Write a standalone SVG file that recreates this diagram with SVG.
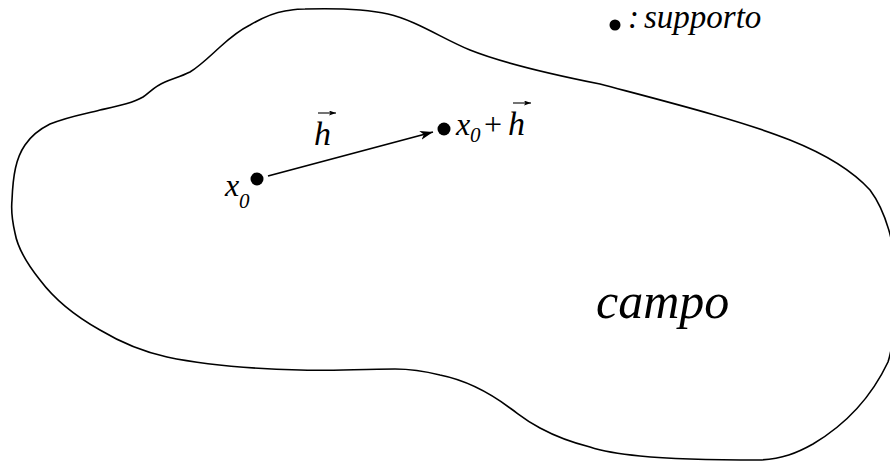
<svg xmlns="http://www.w3.org/2000/svg" width="890" height="463" viewBox="0 0 890 463">
<style>
  .outline { fill: none; stroke: #000; stroke-width: 1.6; stroke-linejoin: round; }
  .conn { fill: none; stroke: #000; stroke-width: 1.8; }
  .vec { fill: none; stroke: #000; stroke-width: 1.1; }
  .dot { fill: #000; }
  text { fill: #000; }
</style>
<defs>
  <marker id="head" markerUnits="userSpaceOnUse" markerWidth="14" markerHeight="10" refX="13" refY="4.5" orient="auto">
    <path d="M0,0 L13,4.5 L0,9 L3.5,4.5 Z" fill="#000"/>
  </marker>
  <marker id="vhead" markerUnits="userSpaceOnUse" markerWidth="8" markerHeight="6" refX="7" refY="2.5" orient="auto">
    <path d="M0,0 L7,2.5 L0,5 L1.5,2.5 Z" fill="#000"/>
  </marker>
</defs>
<g id="campo-region">
  <path class="outline" d="M305,9 C340,8 370,10 388,14 C415,20 445,40 470,50 C500,62 540,72 600,84 C660,100 740,120 790,140 C820,152 850,168 870,190 C885,210 896,245 896,280 C896,310 895,340 888,362 C870,400 845,425 813,444 C797,453 782,459 760,460 C720,460 670,459 640,456 C620,454 605,452 590,447 C570,442 553,435 540,428 C525,420 520,415 510,408 C490,393 465,380 440,375 C420,370 410,369 395,369 C360,369 330,371 300,370 C260,369 210,366 167,357 C140,351 120,342 100,330 C75,316 55,300 40,280 C28,265 18,250 15,233 C12,220 11,210 12,200 C13,175 16,158 25,145 C31,136 40,129 50,124 C70,116 85,114 100,110 C118,106 133,103 143,97 C150,92 155,86 165,82 C175,78 182,76 190,72 C200,66 210,56 220,47 C232,36 240,30 250,25 C262,18 272,13 285,11 C292,10 297,9 305,9 Z"/>
  <text x="596" y="318" font-family="Liberation Serif, serif" font-style="italic" font-size="50">campo</text>
</g>
<g id="legend">
  <circle class="dot" cx="615" cy="25" r="5.5"/>
  <text x="628" y="28" font-family="Liberation Serif, serif" font-style="italic" font-size="33">:<tspan x="644">supporto</tspan></text>
</g>
<g id="x0">
  <circle class="dot" cx="257" cy="179" r="6.5"/>
  <text x="225" y="196" font-family="Liberation Serif, serif" font-style="italic" font-size="32">x<tspan x="239" y="208" font-size="21">0</tspan></text>
</g>
<g id="x0h">
  <circle class="dot" cx="444" cy="129" r="6.5"/>
  <text x="456" y="135" font-family="Liberation Serif, serif" font-style="italic" font-size="32">x<tspan x="470" y="142" font-size="21">0</tspan><tspan font-style="normal" x="484" y="135">+</tspan><tspan x="508" y="135" font-size="34">h</tspan></text>
  <line class="vec" x1="513" y1="103" x2="531" y2="103" marker-end="url(#vhead)"/>
</g>
<g id="connectors">
  <line class="conn" x1="268" y1="176" x2="433" y2="132" marker-end="url(#head)"/>
  <g id="h-label">
    <text x="314" y="145" font-family="Liberation Serif, serif" font-style="italic" font-size="34">h</text>
    <line class="vec" x1="318" y1="113" x2="336" y2="113" marker-end="url(#vhead)"/>
  </g>
</g>
</svg>
